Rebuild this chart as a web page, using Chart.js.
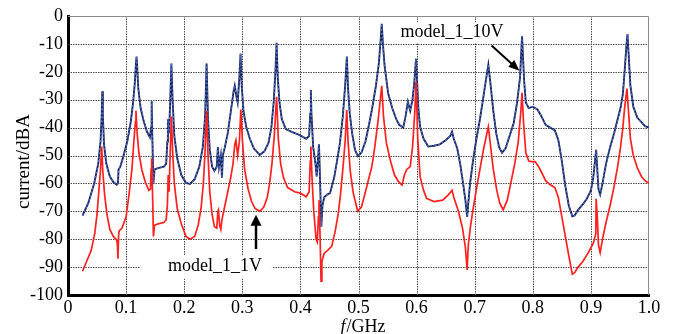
<!DOCTYPE html>
<html><head><meta charset="utf-8">
<script src="https://cdn.jsdelivr.net/npm/chart.js@4"></script>
<style>html,body{margin:0;padding:0;background:#fff;}canvas{display:block}</style>
</head><body>
<canvas id="c" width="678" height="334"></canvas>
<script>
// f (GHz), current (dBA)
const curve10V = [
[0.025,-71.5],[0.035,-67],[0.045,-60],[0.052,-53],[0.056,-45],[0.058,-36],[0.059,-27],[0.060,-36],[0.062,-46],[0.066,-53],
[0.072,-57.5],[0.078,-59.5],[0.084,-60.5],[0.086,-60],[0.087,-55],[0.09,-54],[0.095,-50.5],[0.102,-45],[0.108,-38],[0.112,-31],
[0.115,-24],[0.117,-17],[0.118,-14.5],[0.119,-18],[0.121,-26],[0.125,-33],[0.13,-37.5],[0.136,-41.5],[0.141,-43.5],[0.143,-40],
[0.144,-30.5],[0.145,-42],[0.147,-60],[0.149,-55],[0.155,-54.5],[0.165,-54],[0.169,-53],[0.171,-45],[0.172,-37],[0.174,-42],
[0.176,-30],[0.178,-17],[0.180,-30],[0.183,-43],[0.188,-51],[0.195,-57],[0.203,-59.8],[0.21,-60.2],[0.218,-58.5],[0.226,-54],
[0.232,-47],[0.236,-36],[0.2385,-17],[0.241,-37],[0.244,-48],[0.248,-54],[0.252,-55.5],[0.256,-54],[0.258,-47],[0.260,-54],
[0.263,-50],[0.265,-58],[0.2665,-50],[0.27,-47],[0.275,-42],[0.281,-33],[0.285,-27],[0.287,-25],[0.290,-29],[0.292,-31],
[0.295,-22],[0.297,-13.5],[0.299,-25],[0.302,-34],[0.307,-40],[0.313,-44],[0.32,-47.5],[0.33,-49.8],[0.338,-48.5],[0.345,-45.5],
[0.35,-40],[0.354,-31],[0.357,-20],[0.359,-9.6],[0.361,-22],[0.364,-31],[0.368,-37],[0.375,-40.5],[0.385,-41.5],[0.399,-42.7],
[0.41,-44],[0.415,-43],[0.417,-35],[0.418,-26.5],[0.419,-35],[0.422,-47],[0.426,-53],[0.428,-57.5],[0.430,-52],[0.432,-46],
[0.434,-60],[0.436,-75.5],[0.438,-68],[0.441,-65],[0.446,-64],[0.451,-63.5],[0.458,-58],[0.463,-52],[0.468,-45.6],[0.473,-36],
[0.477,-25],[0.480,-14.5],[0.482,-26],[0.485,-35],[0.489,-42],[0.494,-48],[0.499,-50.2],[0.505,-49],[0.512,-45],[0.518,-39],
[0.523,-33.7],[0.530,-25],[0.535,-17],[0.538,-9],[0.540,-2.8],[0.542,-10],[0.545,-18],[0.551,-27.7],[0.558,-33],[0.565,-37],
[0.570,-39],[0.577,-40],[0.581,-36],[0.585,-30.7],[0.589,-34],[0.593,-30],[0.596,-24],[0.599,-15.3],[0.601,-24],[0.603,-33],
[0.606,-39.7],[0.612,-44],[0.62,-46.8],[0.63,-46.5],[0.64,-46],[0.65,-44.5],[0.658,-43],[0.661,-41.5],[0.664,-44],[0.67,-47.5],
[0.675,-53],[0.68,-60],[0.684,-66],[0.687,-72],[0.689,-67],[0.692,-60],[0.697,-52],[0.703,-44],[0.709,-37],[0.715,-29],
[0.72,-22],[0.7235,-17.5],[0.727,-24],[0.732,-34],[0.737,-42],[0.742,-47],[0.747,-49],[0.753,-47.5],[0.76,-43],[0.767,-38.5],
[0.773,-31],[0.778,-22],[0.7815,-7.3],[0.785,-23],[0.788,-31],[0.793,-33],[0.80,-32.5],[0.808,-33.5],[0.815,-36],[0.822,-39],
[0.83,-40],[0.838,-41],[0.844,-44.5],[0.850,-52],[0.856,-61],[0.862,-68],[0.868,-71.8],[0.872,-71.5],[0.878,-69.5],[0.886,-67.5],
[0.893,-65.5],[0.900,-62.5],[0.904,-58],[0.907,-52],[0.909,-48],[0.911,-55],[0.913,-62],[0.916,-64],[0.92,-60],[0.926,-53],
[0.933,-47],[0.94,-42],[0.946,-37],[0.951,-33],[0.955,-28],[0.958,-20],[0.961,-11],[0.963,-6.5],[0.965,-14],[0.968,-25],
[0.973,-32.5],[0.98,-36.5],[0.987,-38],[0.993,-39.5],[1.0,-40]
];
const curve1V = [
[0.025,-91.5],[0.032,-88],[0.04,-84],[0.046,-78],[0.050,-71],[0.053,-63],[0.056,-55],[0.058,-46.8],[0.060,-56],[0.063,-64],
[0.067,-71],[0.072,-76.5],[0.078,-79],[0.084,-80.3],[0.085,-82],[0.086,-87],[0.087,-79],[0.088,-77],[0.093,-76],[0.1,-72],
[0.105,-64],[0.110,-55],[0.113,-46],[0.116,-38],[0.117,-34],[0.119,-42],[0.122,-49],[0.127,-55],[0.133,-59.5],[0.139,-62.5],
[0.142,-62],[0.143,-55],[0.144,-51],[0.146,-68],[0.147,-79],[0.149,-75],[0.155,-74.5],[0.165,-74],[0.169,-73],[0.171,-68],
[0.1725,-57],[0.174,-63],[0.176,-48],[0.178,-36],[0.180,-48],[0.183,-60],[0.188,-69],[0.195,-74.5],[0.203,-79],[0.21,-80],
[0.218,-79],[0.224,-75],[0.229,-69],[0.233,-60],[0.236,-48],[0.2385,-34],[0.241,-50],[0.244,-63],[0.248,-71],[0.252,-75.5],
[0.256,-76],[0.258,-70],[0.259,-69.5],[0.261,-75],[0.263,-76.5],[0.265,-73],[0.27,-68],[0.275,-63],[0.28,-58],[0.284,-53],
[0.287,-46],[0.289,-44.5],[0.292,-50],[0.295,-45],[0.2975,-33.5],[0.300,-44],[0.304,-55],[0.31,-62],[0.316,-66.5],[0.322,-69],
[0.33,-70],[0.337,-68.5],[0.343,-65],[0.347,-60],[0.351,-53],[0.355,-43],[0.359,-29],[0.362,-44],[0.366,-53],[0.371,-58],
[0.378,-61.5],[0.39,-63],[0.40,-63.5],[0.41,-64.8],[0.415,-63],[0.417,-52],[0.418,-46.8],[0.420,-58],[0.423,-70],[0.427,-80],
[0.429,-81],[0.431,-72],[0.432,-66],[0.434,-80],[0.4355,-95],[0.437,-88],[0.441,-85],[0.447,-84],[0.454,-82.5],[0.46,-77],
[0.465,-71],[0.469,-64],[0.473,-55],[0.477,-45],[0.4797,-33.7],[0.482,-45],[0.486,-56],[0.491,-63.5],[0.4986,-70],[0.505,-68.5],
[0.512,-63],[0.518,-58],[0.523,-54],[0.528,-47],[0.534,-37],[0.540,-25],[0.543,-36],[0.548,-45.5],[0.555,-52],[0.562,-57],
[0.569,-59.4],[0.575,-60.6],[0.579,-57],[0.583,-55],[0.589,-54],[0.593,-47],[0.597,-34],[0.599,-23.5],[0.602,-44],[0.606,-57.6],
[0.612,-62.5],[0.6173,-65.4],[0.63,-66.5],[0.645,-66],[0.655,-64],[0.661,-62.5],[0.664,-65],[0.672,-70],[0.679,-76],[0.684,-83],
[0.687,-91],[0.689,-82],[0.693,-75],[0.697,-69.5],[0.703,-62],[0.709,-55],[0.715,-48],[0.72,-43],[0.7235,-39.7],[0.727,-46],
[0.732,-55],[0.738,-62.5],[0.743,-67],[0.749,-69.5],[0.756,-66],[0.763,-59],[0.769,-52.8],[0.775,-45],[0.7795,-34],[0.7815,-27.5],
[0.784,-38],[0.788,-49],[0.793,-52],[0.798,-52.2],[0.804,-52.2],[0.81,-54],[0.815,-56],[0.822,-59],[0.83,-60.5],[0.838,-61.5],
[0.844,-65],[0.850,-72],[0.856,-79],[0.862,-86],[0.868,-92.5],[0.872,-92],[0.878,-90],[0.886,-88],[0.895,-85],[0.904,-81.5],
[0.9085,-78],[0.909,-65.5],[0.911,-72],[0.913,-82],[0.916,-84.8],[0.92,-80],[0.926,-74],[0.933,-68],[0.94,-61],[0.946,-54],
[0.951,-47],[0.955,-40],[0.958,-33],[0.962,-26],[0.965,-35],[0.968,-44],[0.973,-50],[0.98,-54.5],[0.987,-57.5],[0.993,-59],
[1.0,-60]
];
const seriesNames = ['model_1_10V', 'model_1_1V'];
const xTickLabels = ['0','0.1','0.2','0.3','0.4','0.5','0.6','0.7','0.8','0.9','1.0'];
const yTickValues = [0,-10,-20,-30,-40,-50,-60,-70,-80,-90,-100];
const yTitle = 'current/dBA';
const xTitleItalic = 'f';
const xTitleRest = '/GHz';

const SERIF = '"Liberation Serif", "Times New Roman", serif';
const toXY = arr => arr.map(p => ({x: p[0], y: p[1]}));

function arrowHead(ctx, x1, y1, x2, y2, len, wid) {
  const a = Math.atan2(y2 - y1, x2 - x1);
  ctx.beginPath();
  ctx.moveTo(x2, y2);
  ctx.lineTo(x2 - len * Math.cos(a) + wid * Math.sin(a), y2 - len * Math.sin(a) - wid * Math.cos(a));
  ctx.lineTo(x2 - len * Math.cos(a) - wid * Math.sin(a), y2 - len * Math.sin(a) + wid * Math.cos(a));
  ctx.closePath();
  ctx.fill();
}

const decor = {
  id: 'decor',
  beforeDatasetsDraw(chart) {
    const {ctx, chartArea: ca, scales: {x, y}} = chart;
    ctx.save();
    // dotted grid
    ctx.strokeStyle = '#4a4a4a';
    ctx.lineWidth = 1;
    ctx.setLineDash([1.5, 1]);
    x.ticks.forEach(t => {
      const px = Math.round(x.getPixelForValue(t.value)) + 0.5;
      if (px <= ca.left + 2 || px >= ca.right - 2) return;
      ctx.beginPath(); ctx.moveTo(px, ca.top); ctx.lineTo(px, ca.bottom); ctx.stroke();
    });
    y.ticks.forEach(t => {
      const py = Math.round(y.getPixelForValue(t.value)) + 0.5;
      if (py <= ca.top + 2 || py >= ca.bottom - 2) return;
      ctx.beginPath(); ctx.moveTo(ca.left, py); ctx.lineTo(ca.right, py); ctx.stroke();
    });
    ctx.setLineDash([]);
    // top/right frame
    ctx.strokeStyle = '#8a8a8a';
    ctx.beginPath();
    ctx.moveTo(ca.left, ca.top + 0.5);
    ctx.lineTo(ca.right - 0.5, ca.top + 0.5);
    ctx.lineTo(ca.right - 0.5, ca.bottom);
    ctx.stroke();
    // white boxes behind labels
    ctx.fillStyle = '#fff';
    const b1 = [x.getPixelForValue(0.124), y.getPixelForValue(-85.8), x.getPixelForValue(0.351), y.getPixelForValue(-94.2)];
    ctx.fillRect(b1[0], b1[1], b1[2] - b1[0], b1[3] - b1[1]);
    const b2 = [x.getPixelForValue(0.563), y.getPixelForValue(-2.2), x.getPixelForValue(0.76), y.getPixelForValue(-9.6)];
    ctx.fillRect(b2[0], b2[1], b2[2] - b2[0], b2[3] - b2[1]);
    ctx.restore();
  },
  afterDatasetsDraw(chart) {
    const {ctx, chartArea: ca, scales: {x, y}} = chart;
    ctx.save();
    ctx.fillStyle = '#000';
    ctx.strokeStyle = '#000';
    ctx.font = '18px ' + SERIF;
    ctx.textAlign = 'center';
    ctx.textBaseline = 'middle';
    ctx.fillText(seriesNames[0], x.getPixelForValue(0.661), y.getPixelForValue(-6.0));
    ctx.fillText(seriesNames[1], x.getPixelForValue(0.253), y.getPixelForValue(-89.8));
    // arrow 1
    let ax1 = x.getPixelForValue(0.729), ay1 = y.getPixelForValue(-10.6);
    let ax2 = x.getPixelForValue(0.777), ay2 = y.getPixelForValue(-19.6);
    ctx.lineWidth = 2;
    ctx.beginPath(); ctx.moveTo(ax1, ay1); ctx.lineTo(ax2 - (ax2-ax1)*0.15, ay2 - (ay2-ay1)*0.15); ctx.stroke();
    arrowHead(ctx, ax1, ay1, ax2, ay2, 11, 4.5);
    // arrow 2
    ax1 = x.getPixelForValue(0.3236); ay1 = y.getPixelForValue(-83.5);
    ax2 = ax1; ay2 = y.getPixelForValue(-71.2);
    ctx.lineWidth = 2.5;
    ctx.beginPath(); ctx.moveTo(ax1, ay1); ctx.lineTo(ax2, ay2 + 8); ctx.stroke();
    arrowHead(ctx, ax1, ay1, ax2, ay2, 11, 5.5);
    // x title
    ctx.textAlign = 'left';
    ctx.font = '18px ' + SERIF;
    const wRest = ctx.measureText(xTitleRest).width;
    ctx.font = 'italic 18px ' + SERIF;
    const wIt = ctx.measureText(xTitleItalic).width;
    const cx = (ca.left + ca.right) / 2 + 4;
    const sx = cx - (wRest + wIt) / 2;
    const ty = ca.bottom + 32;
    ctx.fillText(xTitleItalic, sx, ty);
    ctx.font = '18px ' + SERIF;
    ctx.fillText(xTitleRest, sx + wIt + 1, ty);
    // y title
    ctx.save();
    ctx.translate(ca.left - 44, (ca.top + ca.bottom) / 2 + 6);
    ctx.rotate(-Math.PI / 2);
    ctx.textAlign = 'center';
    ctx.font = '19px ' + SERIF;
    ctx.fillText(yTitle, 0, 0);
    ctx.restore();
    ctx.restore();
  }
};

new Chart(document.getElementById('c'), {
  type: 'line',
  data: {
    datasets: [
      {label: seriesNames[1], data: toXY(curve1V), borderColor: '#ff2020', borderWidth: 1.7, pointRadius: 0, tension: 0, fill: false},
      {label: seriesNames[0], data: toXY(curve10V), borderColor: '#4f70d6', borderWidth: 1.1, borderDash: [2, 2], pointRadius: 0, tension: 0, fill: false},
      {label: seriesNames[0] + ' ', data: toXY(curve10V), borderColor: '#1a2656', borderWidth: 1.9, pointRadius: 0, tension: 0, fill: false}
    ]
  },
  options: {
    responsive: false,
    animation: false,
    events: [],
    layout: {padding: {left: 0, right: 29, top: 16, bottom: 0}},
    plugins: {legend: {display: false}, tooltip: {enabled: false}},
    scales: {
      x: {
        type: 'linear', min: 0, max: 1,
        afterBuildTicks: s => { s.ticks = xTickLabels.map((t, i) => ({value: i / 10})); },
        ticks: {callback: (v, i) => xTickLabels[i], color: '#000', font: {family: SERIF, size: 18}, padding: 2, maxRotation: 0, autoSkip: false},
        grid: {display: false, drawTicks: false},
        border: {display: true, color: '#000', width: 3},
        afterFit: s => { s.height = 39; }
      },
      y: {
        min: -100, max: 0,
        afterBuildTicks: s => { s.ticks = yTickValues.map(v => ({value: v})); },
        ticks: {color: '#000', font: {family: SERIF, size: 18}, padding: 5, autoSkip: false},
        grid: {display: false, drawTicks: false},
        border: {display: true, color: '#000', width: 3},
        afterFit: s => { s.width = 68; }
      }
    }
  },
  plugins: [decor]
});
</script>
</body></html>
